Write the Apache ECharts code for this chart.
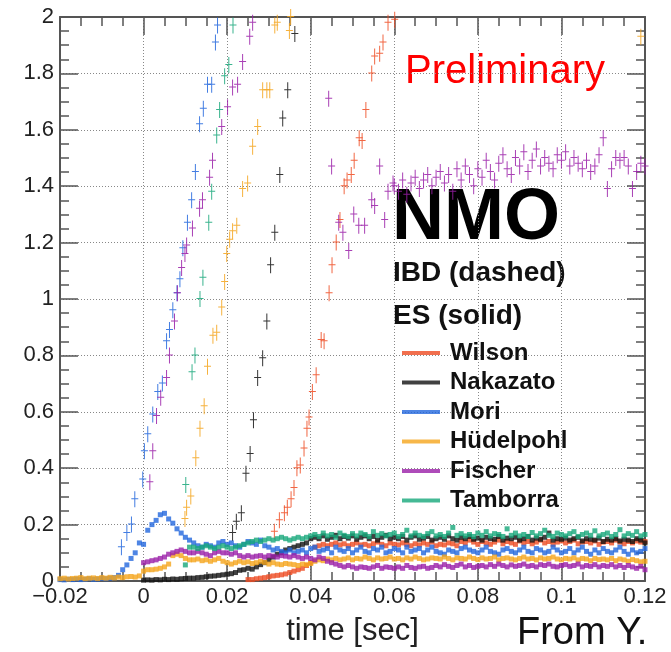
<!DOCTYPE html>
<html>
<head>
<meta charset="utf-8">
<script src="https://cdn.jsdelivr.net/npm/echarts@6/dist/echarts.min.js"></script>
<style>
  html, body { margin: 0; padding: 0; background: #fff; }
  #chart { width: 671px; height: 652px; }
</style>
</head>
<body>
<div id="chart"></div>
<script>
// models (legend order) and colours
var models = ['Wilson', 'Nakazato', 'Mori', 'Hüdelpohl', 'Fischer', 'Tamborra'];
var colors = ['#ee4b22', '#111111', '#2266dd', '#f5a51c', '#9a1ea8', '#17a77a'];

// ES (solid) curves: 1 ms bins from -20 ms to 120 ms
var esStartMs = -20, esEndMs = 120;
var esWilson = [
  null,null,null,null,null,null,null,null,null,null,null,null,null,null,null,null,null,null,null,null,
  null,null,null,null,null,null,null,null,null,null,null,null,null,null,null,null,null,null,null,null,
  null,null,null,null,null,
  0.005,0.005,0.008,0.010,0.012,0.015,
  0.018,0.020,0.022,0.025,0.030,0.035,0.040,0.045,0.055,0.065,
  0.120,0.125,0.130,0.125,0.130,0.135,0.128,0.132,0.125,0.130,
  0.135,0.128,0.130,0.125,0.132,0.138,0.130,0.125,0.135,0.130,
  0.128,0.135,0.130,0.125,0.132,0.128,0.135,0.130,0.138,0.125,
  0.130,0.128,0.135,0.132,0.125,0.140,0.135,0.145,0.138,0.130,
  0.140,0.135,0.130,0.138,0.145,0.132,0.140,0.135,0.130,0.142,
  0.135,0.140,0.132,0.138,0.145,0.135,0.140,0.130,0.138,0.142,
  0.135,0.140,0.145,0.132,0.138,0.140,0.135,0.142,0.130,0.138,
  0.140,0.135,0.145,0.138,0.132,0.140,0.135,0.142,0.138,0.140
];
var esNakazato = [
  null,null,null,null,null,null,null,null,null,null,null,null,null,null,null,null,null,null,null,null,
  0.003,0.004,0.003,0.005,0.004,0.006,0.005,0.007,0.006,0.008,0.009,
  0.010,0.010,0.012,0.013,0.015,0.017,0.018,0.020,0.022,0.024,
  0.026,0.030,0.038,0.040,0.045,0.042,0.050,0.058,0.065,0.075,
  0.085,0.095,0.100,0.110,0.115,0.120,0.125,0.130,0.135,0.150,
  0.155,0.150,0.160,0.148,0.155,0.162,0.150,0.158,0.152,0.160,
  0.148,0.155,0.160,0.150,0.158,0.145,0.155,0.162,0.150,0.155,
  0.150,0.158,0.145,0.155,0.160,0.148,0.152,0.158,0.145,0.150,
  0.155,0.148,0.160,0.150,0.145,0.155,0.150,0.158,0.148,0.152,
  0.145,0.155,0.150,0.148,0.158,0.145,0.152,0.150,0.155,0.145,
  0.150,0.158,0.145,0.152,0.148,0.155,0.170,0.145,0.150,0.148,
  0.152,0.145,0.150,0.155,0.142,0.150,0.148,0.145,0.152,0.140,
  0.148,0.145,0.150,0.142,0.148,0.145,0.140,0.150,0.145,0.135
];
var esMori = [
  0.005,0.004,0.006,0.005,0.007,0.005,0.006,0.008,0.006,0.007,0.009,0.008,0.010,
  0.012,0.020,0.040,0.057,0.080,0.100,0.135,0.130,
  0.180,0.200,0.215,0.235,0.240,0.220,0.205,0.185,0.170,0.155,
  0.145,0.135,0.125,0.120,0.130,0.125,0.120,0.135,0.140,0.130,
  0.135,0.125,0.120,0.130,0.140,0.135,0.130,0.145,0.125,0.120,
  0.110,0.115,0.105,0.100,0.110,0.100,0.105,0.110,0.100,0.115,
  0.120,0.105,0.110,0.115,0.100,0.120,0.110,0.105,0.115,0.100,
  0.110,0.120,0.105,0.100,0.115,0.110,0.120,0.100,0.105,0.115,
  0.110,0.100,0.120,0.105,0.110,0.115,0.100,0.110,0.120,0.105,
  0.100,0.095,0.110,0.105,0.100,0.115,0.120,0.110,0.105,0.100,
  0.110,0.120,0.105,0.100,0.095,0.110,0.115,0.105,0.100,0.110,
  0.120,0.105,0.100,0.115,0.110,0.100,0.105,0.120,0.110,0.100,
  0.105,0.115,0.100,0.110,0.120,0.105,0.095,0.110,0.100,0.115,
  0.105,0.100,0.110,0.120,0.105,0.095,0.110,0.100,0.105,0.115
];
var esHudelpohl = [
  0.008,0.010,0.007,0.009,0.010,0.012,0.008,0.010,0.011,0.009,0.012,0.010,0.013,0.011,0.014,0.012,0.015,0.016,0.014,0.018,
  0.035,0.040,0.040,0.042,0.045,0.050,0.060,0.090,0.095,0.090,0.080,
  0.075,0.075,0.078,0.072,0.075,0.070,0.075,0.080,0.070,0.065,
  0.060,0.065,0.070,0.065,0.068,0.062,0.065,0.070,0.066,0.060,
  0.065,0.060,0.058,0.062,0.060,0.058,0.055,0.060,0.058,0.062,
  0.070,0.075,0.072,0.078,0.075,0.080,0.075,0.078,0.082,0.075,
  0.080,0.078,0.085,0.080,0.075,0.082,0.078,0.080,0.085,0.078,
  0.080,0.075,0.082,0.078,0.085,0.080,0.075,0.078,0.082,0.080,
  0.078,0.085,0.080,0.075,0.082,0.080,0.078,0.085,0.080,0.076,
  0.082,0.078,0.080,0.085,0.075,0.080,0.082,0.078,0.075,0.080,
  0.085,0.078,0.080,0.075,0.082,0.078,0.080,0.085,0.078,0.075,
  0.080,0.078,0.082,0.075,0.080,0.078,0.072,0.080,0.076,0.078,
  0.075,0.080,0.072,0.078,0.075,0.070,0.076,0.072,0.068,0.070
];
var esFischer = [
  null,null,null,null,null,null,null,null,null,null,null,null,null,null,null,null,null,null,null,null,
  0.065,0.068,0.072,0.075,0.080,0.085,0.095,0.100,0.105,0.110,0.105,
  0.100,0.100,0.105,0.100,0.095,0.090,0.100,0.105,0.100,0.100,
  0.095,0.100,0.090,0.085,0.090,0.085,0.088,0.090,0.085,0.090,
  0.088,0.085,0.090,0.088,0.085,0.090,0.085,0.080,0.085,0.080,
  0.075,0.085,0.080,0.070,0.065,0.060,0.055,0.050,0.055,0.050,
  0.045,0.050,0.048,0.045,0.050,0.055,0.045,0.050,0.048,0.045,
  0.050,0.045,0.055,0.048,0.045,0.050,0.052,0.045,0.048,0.055,
  0.050,0.058,0.052,0.048,0.055,0.060,0.050,0.055,0.048,0.052,
  0.055,0.050,0.058,0.052,0.060,0.055,0.050,0.057,0.052,0.055,
  0.060,0.052,0.055,0.050,0.058,0.055,0.060,0.052,0.050,0.055,
  0.058,0.052,0.055,0.060,0.050,0.055,0.052,0.058,0.050,0.055,
  0.052,0.058,0.050,0.055,0.048,0.055,0.050,0.045,0.052,0.040
];
var esTamborra = [
  null,null,null,null,null,null,null,null,null,null,null,null,null,null,null,null,null,null,null,null,
  null,null,null,null,null,null,null,null,null,null,
  0.057,0.120,0.120,0.115,0.120,0.125,0.120,0.115,0.120,0.125,0.120,
  0.115,0.120,0.125,0.130,0.135,0.140,0.145,0.140,0.145,0.150,
  0.145,0.150,0.155,0.150,0.145,0.150,0.155,0.150,0.155,0.160,
  0.165,0.158,0.170,0.160,0.165,0.155,0.170,0.162,0.158,0.168,
  0.160,0.170,0.165,0.158,0.175,0.162,0.168,0.160,0.165,0.170,
  0.158,0.165,0.180,0.160,0.170,0.162,0.158,0.168,0.175,0.160,
  0.165,0.158,0.170,0.190,0.162,0.168,0.160,0.165,0.158,0.170,
  0.162,0.175,0.160,0.168,0.165,0.158,0.185,0.162,0.170,0.160,
  0.165,0.158,0.172,0.160,0.168,0.180,0.162,0.158,0.170,0.165,
  0.160,0.168,0.175,0.158,0.165,0.170,0.162,0.178,0.160,0.165,
  0.170,0.158,0.165,0.182,0.160,0.168,0.162,0.175,0.160,0.165
];

// IBD (dashed) points: [time sec, value]
var ibdWilson = [
  [0.0313,0.175],[0.0325,0.215],[0.0337,0.24],[0.0344,0.26],[0.0353,0.29],[0.0360,0.33],
  [0.0367,0.40],[0.0375,0.41],[0.0384,0.47],[0.0391,0.54],[0.0396,0.58],[0.0404,0.67],
  [0.0413,0.73],[0.0425,0.855],[0.0432,0.85],[0.0444,1.02],[0.0451,1.12],[0.0461,1.20],
  [0.0470,1.28],[0.0480,1.40],[0.0487,1.42],[0.0497,1.44],[0.0504,1.49],[0.0516,1.57],
  [0.0523,1.56],[0.0532,1.67],[0.0546,1.80],[0.0553,1.86],[0.0565,1.87],[0.0573,1.91],
  [0.0585,1.98],[0.0601,1.99]
];
var ibdNakazato = [
  [0.0213,0.17],[0.0222,0.21],[0.0234,0.24],[0.0245,0.38],[0.0255,0.45],[0.0263,0.57],
  [0.0273,0.72],[0.0285,0.79],[0.0295,0.92],[0.0304,1.12],[0.0314,1.235],[0.0326,1.44],
  [0.0333,1.64],[0.0345,1.74],[0.0362,1.94]
];
var ibdMori = [
  [-0.0053,0.12],[-0.0040,0.17],[-0.0029,0.20],[-0.0021,0.29],[-0.0002,0.36],[0.0002,0.46],
  [0.0010,0.52],[0.0022,0.59],[0.0034,0.67],[0.0045,0.70],[0.0055,0.85],[0.0062,0.89],
  [0.0070,0.96],[0.0080,1.02],[0.0087,1.07],[0.0094,1.18],[0.0105,1.27],[0.0115,1.35],
  [0.0124,1.45],[0.0134,1.62],[0.0143,1.675],[0.0153,1.76],[0.0163,1.76],[0.0172,1.91],
  [0.0177,1.97]
];
var ibdHudelpohl = [
  [0.0099,0.22],[0.0103,0.26],[0.0113,0.30],[0.0125,0.435],[0.0135,0.54],[0.0145,0.62],
  [0.0153,0.76],[0.0166,0.87],[0.0175,0.88],[0.0187,0.97],[0.0194,1.06],[0.0199,1.16],
  [0.0206,1.21],[0.0213,1.24],[0.0223,1.26],[0.0237,1.39],[0.0249,1.41],[0.0261,1.54],
  [0.0273,1.61],[0.0285,1.74],[0.0295,1.74],[0.0302,1.74],[0.0314,1.97],[0.0320,1.98],
  [0.0349,1.95],[0.0352,2.0],[0.1190,1.93]
];
var ibdFischer = [
  [0.0015,0.35],[0.0022,0.46],[0.0031,0.585],[0.0041,0.65],[0.0055,0.72],[0.0062,0.80],
  [0.0074,0.92],[0.0081,1.02],[0.0091,1.11],[0.0099,1.16],[0.0103,1.19],[0.0117,1.25],
  [0.0134,1.32],[0.0141,1.35],[0.0158,1.43],[0.0165,1.49],[0.0187,1.61],[0.0201,1.68],
  [0.0213,1.75],[0.0225,1.76],[0.0237,1.84],[0.0254,1.93],[0.0261,1.98],
  [0.0443,1.71],[0.0450,1.47],[0.0467,1.27],[0.0477,1.235],[0.0491,1.17],[0.0503,1.30],
  [0.0515,1.26],[0.0529,1.26],[0.0546,1.35],[0.0553,1.33],[0.0565,1.47],[0.0577,1.28],
  [0.0585,1.38],[0.0597,1.41],
  [0.060,1.40],[0.061,1.38],[0.062,1.42],[0.063,1.37],[0.064,1.41],[0.065,1.43],[0.066,1.39],
  [0.067,1.42],[0.068,1.44],[0.069,1.40],[0.070,1.43],[0.071,1.45],[0.072,1.41],[0.073,1.44],
  [0.074,1.38],[0.075,1.46],[0.076,1.42],[0.077,1.47],[0.078,1.44],[0.079,1.40],[0.080,1.46],
  [0.081,1.43],[0.082,1.49],[0.083,1.45],[0.084,1.42],[0.085,1.48],[0.086,1.51],[0.087,1.46],
  [0.088,1.44],[0.089,1.50],[0.090,1.47],[0.091,1.52],[0.092,1.45],[0.093,1.49],[0.094,1.53],
  [0.095,1.47],[0.096,1.50],[0.097,1.48],[0.098,1.46],[0.099,1.51],[0.100,1.49],[0.101,1.52],
  [0.102,1.47],[0.103,1.50],[0.104,1.48],[0.105,1.46],[0.106,1.49],[0.107,1.45],[0.108,1.47],
  [0.109,1.51],[0.110,1.57],[0.111,1.39],[0.112,1.46],[0.113,1.50],[0.114,1.49],[0.115,1.50],
  [0.116,1.47],[0.117,1.39],[0.118,1.45],[0.119,1.48],[0.120,1.47]
];
var ibdTamborra = [
  [0.0101,0.34],[0.0116,0.74],[0.0123,0.80],[0.0135,1.00],[0.0142,1.075],[0.0156,1.27],
  [0.0163,1.38],[0.0175,1.58],[0.0182,1.67],[0.0194,1.79],[0.0204,1.83],[0.0214,1.97]
];

var esValues = [esWilson, esNakazato, esMori, esHudelpohl, esFischer, esTamborra];
var ibdValues = [ibdWilson, ibdNakazato, ibdMori, ibdHudelpohl, ibdFischer, ibdTamborra];

// error-bar style marker for the IBD points
var crossPath = 'path://M3,0h1v7h3v1h-3v8h-1v-8h-3v-1h3z';

function esPoints(vals) {
  var out = [];
  for (var i = 0; i < vals.length; i++) {
    if (vals[i] == null) continue;
    out.push([(esStartMs + i) / 1000, vals[i]]);
  }
  return out;
}

var series = [];
models.forEach(function (name, k) {
  series.push({
    name: name + ' IBD',
    type: 'scatter',
    data: ibdValues[k],
    symbol: crossPath,
    symbolSize: [7, 16],
    itemStyle: { color: colors[k], opacity: 0.85 },
    z: 2,
    silent: true
  });
});
models.forEach(function (name, k) {
  series.push({
    name: name,
    type: 'scatter',
    data: esPoints(esValues[k]),
    symbol: 'rect',
    symbolSize: 5,
    itemStyle: { color: colors[k] },
    z: 3,
    silent: true
  });
});

var frame = { onZero: false, lineStyle: { color: '#555', width: 2 } };
var tick = { show: true, inside: true, length: 18, lineStyle: { color: '#555', width: 1.5 } };
var minor = { show: true, splitNumber: 4, length: 9, lineStyle: { color: '#555', width: 1.5 } };
var grid = { show: true, lineStyle: { color: '#888', width: 1, type: [1, 2] } };
var font = 'Liberation Sans';

var myChart = echarts.init(document.getElementById('chart'));
myChart.setOption({
  animation: false,
  backgroundColor: '#fff',
  grid: { left: 60, right: 26, top: 17, bottom: 71 },
  legend: {
    data: models,
    orient: 'vertical',
    left: 397,
    top: 336,
    icon: 'rect',
    itemWidth: 38,
    itemHeight: 4,
    itemGap: 5.5,
    selectedMode: false,
    textStyle: { fontFamily: font, fontSize: 24, fontWeight: 'bold', color: '#111', lineHeight: 24, padding: [0, 0, 0, 5] }
  },
  xAxis: [{
    type: 'value', min: -0.02, max: 0.12, interval: 0.02,
    name: 'time [sec]', nameLocation: 'middle', nameGap: 35,
    nameTextStyle: { fontFamily: font, fontSize: 31, color: '#222' },
    axisLine: frame, axisTick: tick, minorTick: minor,
    axisLabel: {
      fontFamily: font, fontSize: 22, color: '#222', margin: 5,
      formatter: function (v) {
        var s = String(+Math.abs(v).toFixed(2));
        return v < 0 ? '\u2212' + s : s;
      }
    },
    splitLine: grid
  }, {
    type: 'value', position: 'top', min: -0.02, max: 0.12, interval: 0.02,
    axisLine: frame, axisTick: tick, minorTick: minor,
    axisLabel: { show: false }, splitLine: { show: false }
  }],
  yAxis: [{
    type: 'value', min: 0, max: 2, interval: 0.2,
    axisLine: frame, axisTick: tick, minorTick: minor,
    axisLabel: { fontFamily: font, fontSize: 22, color: '#222', margin: 6 },
    splitLine: grid
  }, {
    type: 'value', position: 'right', min: 0, max: 2, interval: 0.2,
    axisLine: frame, axisTick: tick, minorTick: minor,
    axisLabel: { show: false }, splitLine: { show: false }
  }],
  graphic: [
    { type: 'text', x: 405, y: 72, style: { text: 'Preliminary', font: '40px "Liberation Sans"', fill: '#ff0000', textVerticalAlign: 'middle', verticalAlign: 'middle' } },
    { type: 'text', x: 392, y: 219, style: { text: 'NMO', font: 'bold 72px "Liberation Sans"', fill: '#000', textVerticalAlign: 'middle', verticalAlign: 'middle' } },
    { type: 'text', x: 393, y: 273, style: { text: 'IBD (dashed)', font: 'bold 28px "Liberation Sans"', fill: '#111', textVerticalAlign: 'middle', verticalAlign: 'middle' } },
    { type: 'text', x: 393, y: 316, style: { text: 'ES (solid)', font: 'bold 28px "Liberation Sans"', fill: '#111', textVerticalAlign: 'middle', verticalAlign: 'middle' } },
    { type: 'text', x: 517, y: 634, style: { text: 'From Y.', font: '38px "Liberation Sans"', fill: '#111', textVerticalAlign: 'middle', verticalAlign: 'middle' } }
  ],
  series: series
});
</script>
</body>
</html>
